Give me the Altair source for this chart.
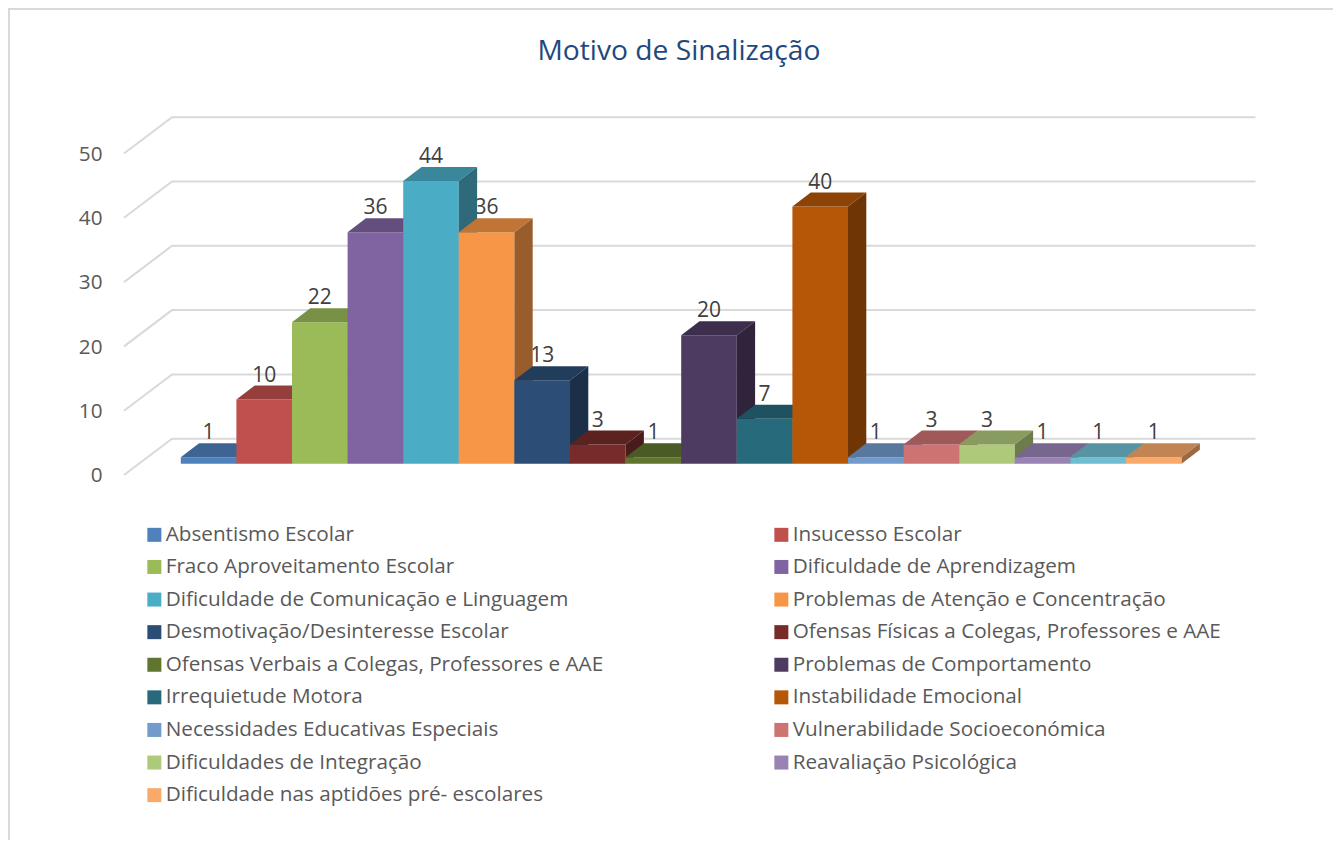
import altair as alt
import pandas as pd

series = ["Absentismo Escolar", "Insucesso Escolar", "Fraco Aproveitamento Escolar",
          "Dificuldade de Aprendizagem", "Dificuldade de Comunicação e Linguagem",
          "Problemas de Atenção e Concentração", "Desmotivação/Desinteresse Escolar",
          "Ofensas Físicas a Colegas, Professores e AAE",
          "Ofensas Verbais a Colegas, Professores e AAE", "Problemas de Comportamento",
          "Irrequietude Motora", "Instabilidade Emocional",
          "Necessidades Educativas Especiais", "Vulnerabilidade Socioeconómica",
          "Dificuldades de Integração", "Reavaliação Psicológica",
          "(sem legenda)", "Dificuldade nas aptidões pré- escolares"]
values = [1, 10, 22, 36, 44, 36, 13, 3, 1, 20, 7, 40, 1, 3, 3, 1, 1, 1]
colors = ["#4F81BD", "#C0504D", "#9BBB59", "#8064A2", "#4BACC6", "#F79646",
          "#2C4D75", "#772C2A", "#5F7530", "#4D3B62", "#276A7C", "#B65708",
          "#729ACA", "#CD7371", "#AFC97A", "#9983B5", "#6FBDD1", "#F9AA6B"]
ticks = [0, 10, 20, 30, 40, 50]
legend_names = [s for s in series if s != "(sem legenda)"]

W, H = 1325, 832
PX_X, PX_Y = 55.6, 6.43      # pixels per category / per value unit
X0_PAGE, Y0_PAGE = 180.8, 463.8
DX, DY = 18.3 / PX_X, 14 / PX_Y  # bar depth in data units
x_domain = [(8 - X0_PAGE) / PX_X, (8 + W - X0_PAGE) / PX_X]
y_domain = [(Y0_PAGE - 8 - H) / PX_Y, (Y0_PAGE - 8) / PX_Y]
x_scale = alt.Scale(domain=x_domain, nice=False, zero=False)
y_scale = alt.Scale(domain=y_domain, nice=False, zero=False)


def shade(hex_color, k):
    r, g, b = (int(hex_color[i:i + 2], 16) for i in (1, 3, 5))
    return "#%02x%02x%02x" % (int(r * k), int(g * k), int(b * k))


# back wall grid: front corner, back corner, far right end
wall_x = [(124 - X0_PAGE) / PX_X, (172 - X0_PAGE) / PX_X, (1255.5 - X0_PAGE) / PX_X]
wall_lift = [(Y0_PAGE - 475) / PX_Y, (Y0_PAGE - 438.7) / PX_Y, (Y0_PAGE - 438.7) / PX_Y]
wall = pd.DataFrame([{"t": t, "i": i, "x": wall_x[i], "y": t + wall_lift[i]}
                     for t in ticks for i in range(3)])

faces = []
for i, (v, c) in enumerate(zip(values, colors)):
    x0, x1 = i, i + 1
    top = shade(c, 0.78)
    side = shade(c, 0.62)
    for px, a, b in [(x0, 0, v), (x1, 0, v)]:
        faces.append({"face": f"{i}-a", "fill": c, "x": px, "y": a, "y2": b})
    for px, a, b in [(x0, v, v), (x0 + DX, v, v + DY), (x1, v, v + DY), (x1 + DX, v + DY, v + DY)]:
        faces.append({"face": f"{i}-b", "fill": top, "x": px, "y": a, "y2": b})
    for px, a, b in [(x1, 0, v), (x1 + DX, DY, v + DY)]:
        faces.append({"face": f"{i}-c", "fill": side, "x": px, "y": a, "y2": b})
faces = pd.DataFrame(faces)

bars = pd.DataFrame({"name": series, "value": values,
                     "cx": [i + 0.5 for i in range(len(series))],
                     "labely": [v + DY for v in values],
                     "half": [0.5] * len(series)})

FONT = "Open Sans"
y_axis = alt.Axis(values=ticks, title=None, domain=False, ticks=False, grid=False,
                  offset=-94, labelPadding=0, labelOffset=12, labelFontSize=20.7,
                  labelFont=FONT, labelColor="#595959")

border_v = alt.Chart(pd.DataFrame({"a": [0]})).mark_rule(color="#d9d9d9", strokeWidth=2).encode(
    x=alt.value(1), y=alt.value(0), y2=alt.value(H))
border_h = alt.Chart(pd.DataFrame({"a": [0]})).mark_rule(color="#d9d9d9", strokeWidth=2).encode(
    y=alt.value(1), x=alt.value(0), x2=alt.value(W))

grid = alt.Chart(wall).mark_line(color="#d9d9d9", strokeWidth=2).encode(
    x=alt.X("x:Q", scale=x_scale, axis=None),
    y=alt.Y("y:Q", scale=y_scale, axis=y_axis),
    detail="t:N", order="i:Q")

legend_keys = alt.Chart(bars).mark_square(size=1, opacity=1).encode(
    x=alt.X("cx:Q", scale=x_scale, axis=None),
    y=alt.Y("half:Q", scale=y_scale, axis=y_axis),
    color=alt.Color("name:N", scale=alt.Scale(domain=series, range=colors),
                    legend=alt.Legend(values=legend_names, title=None, orient="none",
                                      direction="horizontal", columns=2,
                                      legendX=136, legendY=516,
                                      symbolType="square", symbolSize=196, symbolStrokeWidth=0,
                                      symbolOpacity=1, labelOffset=1, labelLimit=700,
                                      labelFont=FONT, labelFontSize=20.7, labelColor="#595959",
                                      rowPadding=10.6, columnPadding=167, gridAlign="each")))

labels = alt.Chart(bars).mark_text(font=FONT, fontSize=21, color="#404040", baseline="bottom",
                                   align="center", dy=0).encode(
    x=alt.X("cx:Q", scale=x_scale, axis=None),
    y=alt.Y("labely:Q", scale=y_scale, axis=y_axis),
    text="value:Q")

boxes = alt.Chart(faces).mark_area(orient="vertical", interpolate="linear").encode(
    x=alt.X("x:Q", scale=x_scale, axis=None),
    y=alt.Y("y:Q", scale=y_scale, axis=y_axis, stack=False),
    y2="y2:Q",
    detail="face:N",
    fill=alt.Fill("fill:N", scale=None))

chart = alt.layer(border_v, border_h, grid, legend_keys, labels, boxes).properties(
    width=W, height=H,
    padding=0,
    autosize=alt.AutoSizeParams(type="none"),
    title=alt.TitleParams("Motivo de Sinalização", font=FONT, fontSize=28.2, fontWeight="normal",
                          color="#1F497D", anchor="middle", frame="group", dx=8.5, dy=63),
).configure_view(strokeWidth=0)

chart.save("out.html", embed_options={"renderer": "svg", "actions": False})
